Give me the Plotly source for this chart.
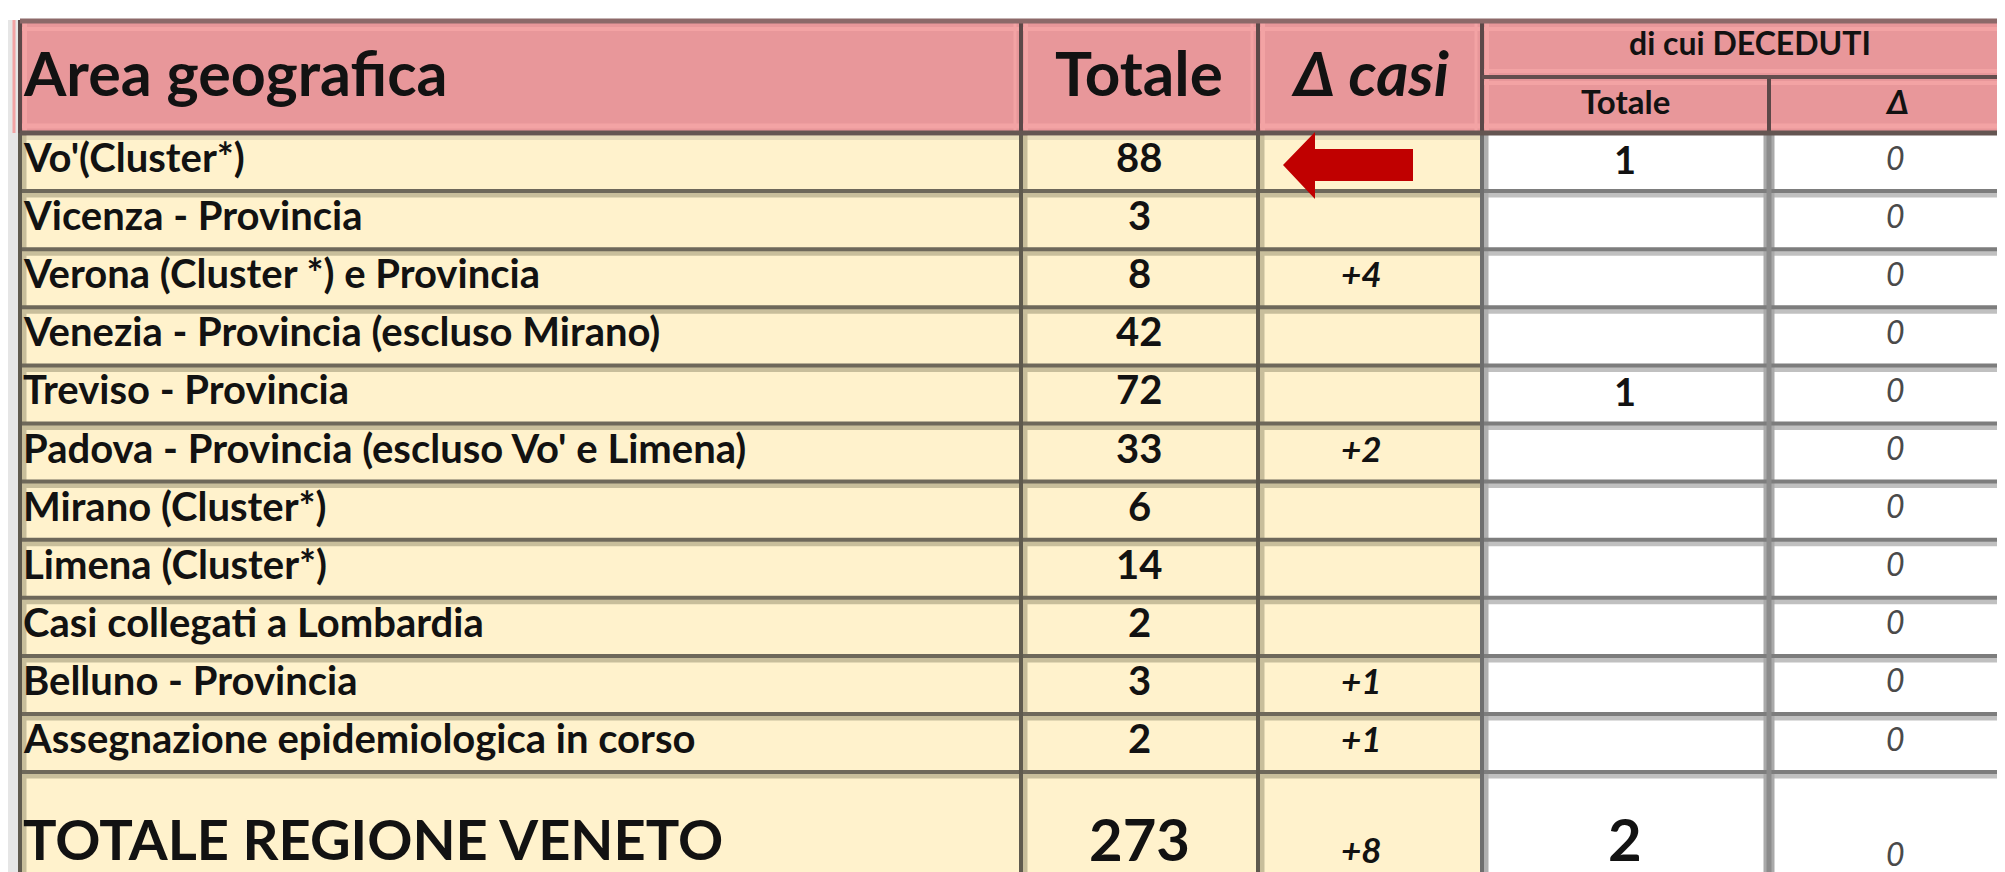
import plotly.graph_objects as go

# ---------------- data ----------------
areas = [
    "Vo'(Cluster*)",
    "Vicenza - Provincia",
    "Verona (Cluster *) e Provincia",
    "Venezia - Provincia (escluso Mirano)",
    "Treviso - Provincia",
    "Padova - Provincia (escluso Vo' e Limena)",
    "Mirano (Cluster*)",
    "Limena (Cluster*)",
    "Casi collegati a Lombardia",
    "Belluno - Provincia",
    "Assegnazione epidemiologica in corso",
]
totale = [88, 3, 8, 42, 72, 33, 6, 14, 2, 3, 2]
delta_casi = ["", "", "+4", "", "", "+2", "", "", "", "+1", "+1"]
deceduti_totale = ["1", "", "", "", "1", "", "", "", "", "", ""]
deceduti_delta = [0, 0, 0, 0, 0, 0, 0, 0, 0, 0, 0]

total_label = "TOTALE REGIONE VENETO"
total_totale = 273
total_delta = "+8"
total_deceduti = 2
total_deceduti_delta = 0

header_cols = ["Area geografica", "Totale", "\u0394 casi"]
header_group = "di cui DECEDUTI"
header_sub = ["Totale", "\u0394"]

# ---------------- layout geometry ----------------
W, H = 2005, 872
col_x = [12, 1013, 1250, 1474, 1761, 2012]
top = 12
head_bot = 125
sub_line = 69
row_h = 58.1
n = len(areas)
bottom = 900

FONT = "Lato"
PINK = "#E8979A"
PINK_L = "#F3A3A4"
CREAM = "#FFF2CC"
TXT = "#121212"

shapes = []
def rect(x0, y0, x1, y1, color):
    shapes.append(dict(type="rect", xref="x", yref="y", x0=x0, x1=x1, y0=y0, y1=y1,
                       fillcolor=color, line=dict(width=0), layer="below"))
def line(x0, y0, x1, y1, color, w):
    shapes.append(dict(type="line", xref="x", yref="y", x0=x0, x1=x1, y0=y0, y1=y1,
                       line=dict(color=color, width=w), layer="above"))

# fills
rect(0, top, col_x[0], bottom, "#E6E6E6")
rect(col_x[0], top, col_x[-1], head_bot, PINK)
rect(col_x[0], head_bot, col_x[3], bottom, CREAM)
rect(col_x[3], head_bot, col_x[-1], bottom, "#FFFFFF")

# lighter pink bands inside header
line(col_x[0], top + 9, col_x[-1], top + 9, PINK_L, 4)
line(col_x[0], head_bot - 7, col_x[-1], head_bot - 7, PINK_L, 5)
line(col_x[3], sub_line + 6, col_x[-1], sub_line + 6, PINK_L, 4)
line(col_x[3], sub_line - 6, col_x[-1], sub_line - 6, PINK_L, 4)
for x in col_x[:4]:
    line(x + 5, top, x + 5, head_bot, PINK_L, 4)
    line(x - 6, top, x - 6, head_bot, PINK_L, 3)

# halos (soft bands next to lines in body)
for i in range(1, n + 1):
    y = head_bot + i * row_h
    line(col_x[0], y + 4, col_x[3], y + 4, "rgb(200,190,155)", 5)
    line(col_x[3], y + 4, col_x[-1], y + 4, "rgb(192,192,192)", 5)
line(col_x[0], head_bot + 5, col_x[3], head_bot + 5, "rgb(232,222,188)", 4)
for x in col_x[:3]:
    line(x + 4, head_bot, x + 4, bottom, "rgb(200,190,155)", 5)
line(col_x[3] + 4, head_bot, col_x[3] + 4, bottom, "rgb(175,175,175)", 5)
line(col_x[4], head_bot, col_x[4], bottom, "rgb(170,170,170)", 11)

# horizontal row lines
for i in range(1, n + 1):
    y = head_bot + i * row_h
    line(col_x[0], y, col_x[3], y, "rgb(110,104,90)", 4)
    line(col_x[3], y, col_x[-1], y, "rgb(125,125,125)", 4)

# vertical lines
for x in col_x[:3]:
    line(x, top, x, head_bot, "rgb(92,72,72)", 4)
    line(x, head_bot, x, bottom, "rgb(95,90,78)", 4)
line(col_x[3], top, col_x[3], head_bot, "rgb(92,72,72)", 4)
line(col_x[3], head_bot, col_x[3], bottom, "rgb(110,110,110)", 4)
line(col_x[4], sub_line, col_x[4], head_bot, "rgb(92,72,72)", 4)
line(col_x[4], head_bot, col_x[4], bottom, "rgb(140,140,140)", 5)

# header borders
line(col_x[0], top + 1, col_x[-1], top + 1, "rgb(140,105,105)", 5)
line(col_x[0], head_bot, col_x[-1], head_bot, "rgb(100,86,82)", 5)
line(col_x[3], sub_line, col_x[-1], sub_line, "rgb(100,78,78)", 4)

# red arrow pointing left
shapes.append(dict(type="path", xref="x", yref="y",
                   path="M 1275 157 L 1307 124 L 1307 141 L 1405 141 L 1405 173 L 1307 173 L 1307 191 Z",
                   fillcolor="#C00000", line=dict(width=0), layer="above"))

# ---------------- text ----------------
ann = []
def text(x, y, s, size, anchor="center", bold=True, italic=False, color=TXT):
    t = str(s)
    if t == "":
        return
    if bold:
        t = "<b>" + t + "</b>"
    if italic:
        t = "<i>" + t + "</i>"
    ann.append(dict(x=x, y=y, xref="x", yref="y", text=t, showarrow=False,
                    xanchor=anchor, yanchor="middle", borderpad=0,
                    font=dict(family=FONT, size=size, color=color)))

x_tot = 1131
x_dc = 1353
x_dt = 1617
x_dd = 1887
x_left = 14

# headers
text(x_left, 64, header_cols[0], 61, anchor="left")
text(x_tot, 64, header_cols[1], 62)
text(1362, 64, header_cols[2], 62, italic=True)
text(1742, 34, header_group, 32)
text(x_dt, 93, header_sub[0], 33)
text(1889, 93, header_sub[1], 33, italic=True)

# body rows
for i in range(n):
    yc = head_bot + (i + 0.5) * row_h - 5
    text(x_left, yc, areas[i], 40, anchor="left")
    text(x_tot, yc, totale[i], 40)
    text(x_dc, yc, delta_casi[i], 35, italic=True)
    text(x_dt, yc + 2, deceduti_totale[i], 38)
    text(x_dd, yc, deceduti_delta[i], 32, bold=False, italic=True, color="#4a4a4a")

# total row
text(x_left, 830, total_label, 56, anchor="left")
text(x_tot, 830, total_totale, 58)
text(x_dc, 841, total_delta, 35, italic=True)
text(x_dt, 830, total_deceduti, 58)
text(x_dd, 845, total_deceduti_delta, 32, bold=False, italic=True, color="#4a4a4a")

fig = go.Figure()
fig.update_layout(
    width=W, height=H,
    margin=dict(l=0, r=0, t=0, b=0),
    paper_bgcolor="white", plot_bgcolor="white",
    xaxis=dict(range=[0, W], visible=False, fixedrange=True),
    yaxis=dict(range=[H, 0], visible=False, fixedrange=True),
    shapes=shapes, annotations=ann, showlegend=False,
)
fig.write_html("out.html")
